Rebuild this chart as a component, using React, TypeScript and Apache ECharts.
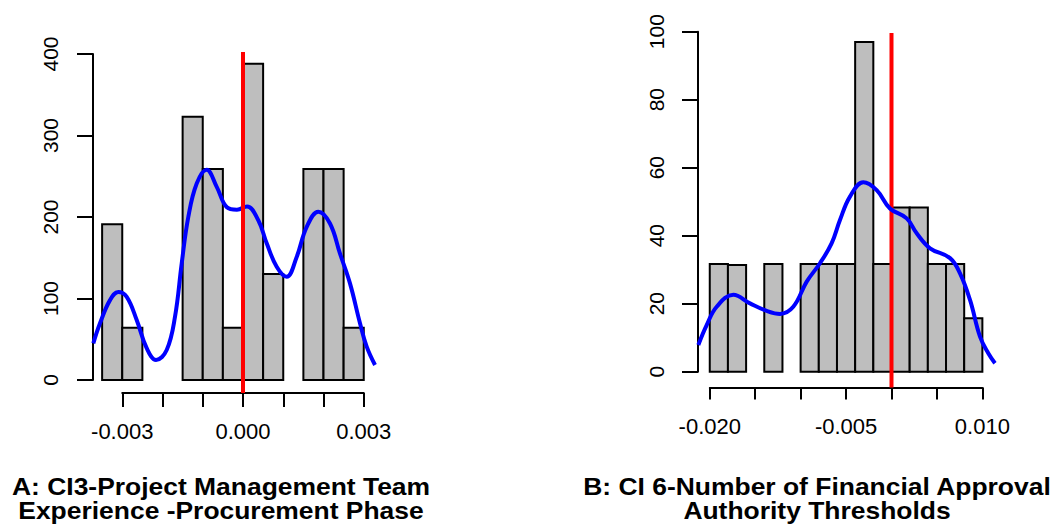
import React, { useEffect, useRef } from "react";
import * as echarts from "echarts";

// ---------- Data ----------
// Panel A histogram (density scale)
const leftBinStarts = [-0.0035, -0.003, -0.0025, -0.002, -0.0015, -0.001, -0.0005, 0, 0.0005, 0.001, 0.0015, 0.002, 0.0025];
const leftBinHeights = [191, 64, 0, 0, 323, 259, 64, 388, 130, 0, 259, 259, 64];
const leftBinWidth = 0.0005;
// Panel A density curve
const leftDensityX = [-0.003719, -0.003553, -0.003304, -0.003098, -0.002889, -0.002641, -0.002393, -0.002161, -0.001896, -0.001689, -0.001523, -0.001359, -0.00115, -0.000902, -0.000653, -0.0004, -0.00015, 0.0001, 0.00038, 0.000589, 0.000837, 0.001086, 0.001334, 0.001583, 0.001871, 0.002161, 0.00241, 0.002658, 0.002907, 0.003073, 0.00328];
const leftDensityY = [45, 69.6, 98, 108, 102, 73.6, 39, 24.5, 36.8, 77.7, 143, 200, 241, 258, 237, 212, 209, 213, 196, 167.7, 139, 126.7, 151, 188, 206.5, 192, 155, 118.6, 69.6, 40.9, 18.4];
const leftRefLine = 0;
const leftYTicks = { min: 0, max: 400, interval: 100 };
const leftXTicks = { min: -0.003, max: 0.003, interval: 0.001 };
const leftXLabelValues = [-0.003, 0, 0.003];

// Panel B histogram
const rightBinStarts = [-0.02, -0.018, -0.016, -0.014, -0.012, -0.01, -0.008, -0.006, -0.004, -0.002, 0, 0.002, 0.004, 0.006, 0.008];
const rightBinHeights = [31.7, 31.4, 0, 31.7, 0, 31.7, 31.7, 31.7, 97, 31.7, 48.3, 48.3, 31.7, 31.7, 15.7];
const rightBinWidth = 0.002;
// Panel B density curve
const rightDensityX = [-0.02126, -0.02034, -0.01924, -0.01741, -0.01557, -0.01373, -0.01227, -0.01081, -0.00933, -0.00787, -0.00658, -0.00567, -0.00457, -0.0031, -0.00163, -0.00017, 0.00167, 0.00277, 0.00424, 0.00644, 0.00754, 0.00864, 0.00974, 0.01065, 0.01139];
const rightDensityY = [7.85, 13.7, 19.1, 22.6, 20.1, 17.9, 17, 19.1, 26.5, 31.9, 37.8, 44.6, 51.5, 55.7, 53.4, 48, 45.1, 40.7, 36.3, 33.4, 28.9, 21.1, 10.3, 5.4, 2.5];
const rightRefLine = 0;
const rightYTicks = { min: 0, max: 100, interval: 20 };
const rightXTicks = { min: -0.02, max: 0.01, interval: 0.005 };
const rightXLabelValues = [-0.02, -0.005, 0.01];

const titleA = ["A: CI3-Project Management Team", "Experience -Procurement Phase"];
const titleB = ["B: CI 6-Number of Financial Approval", "Authority Thresholds"];

// ---------- Layout ----------
const FONT = "'Liberation Sans', Arial, Helvetica, sans-serif";
const leftPlot = { left: 93, top: 52, width: 282, height: 341, xMin: -0.0037267, xMax: 0.0032795, yMin: -15.95, yMax: 402.45 };
const leftYGrid = { left: 93, top: 54, width: 282, height: 326 };
const leftXGrid = { left: 122.25, top: 392, width: 241.5, height: 1 };
const rightPlot = { left: 698, top: 33, width: 297, height: 354.5, xMin: -0.021294, xMax: 0.01139, yMin: -4.65, yMax: 99.62 };
const rightYGrid = { left: 698, top: 31.7, width: 297, height: 340 };
const rightXGrid = { left: 709.8, top: 386.5, width: 272.6, height: 1 };

function histData(starts: number[], heights: number[], w: number) {
  const out: number[][] = [];
  starts.forEach((s, i) => {
    if (heights[i] > 0) out.push([s, s + w, heights[i]]);
  });
  return out;
}

function zip(xs: number[], ys: number[]) {
  return xs.map((x, i) => [x, ys[i]]);
}

const renderBar = (params: any, api: any) => {
  const p0 = api.coord([api.value(0), 0]);
  const p1 = api.coord([api.value(1), api.value(2)]);
  return {
    type: "rect",
    shape: { x: p0[0], y: p1[1], width: p1[0] - p0[0], height: p0[1] - p1[1] },
    style: { fill: "#bebebe", stroke: "#000000", lineWidth: 2 },
  };
};

function hiddenAxis(gridIndex: number, min: number, max: number) {
  return { type: "value", gridIndex, min, max, show: false, splitLine: { show: false } };
}

function yDisplayAxis(gridIndex: number, t: { min: number; max: number; interval: number }, margin: number, tickLen: number) {
  return {
    type: "value",
    gridIndex,
    min: t.min,
    max: t.max,
    interval: t.interval,
    position: "left",
    splitLine: { show: false },
    axisLine: { show: true, lineStyle: { color: "#000", width: 2 } },
    axisTick: { show: true, inside: false, length: tickLen, lineStyle: { color: "#000", width: 2 } },
    axisLabel: {
      show: true,
      rotate: 90,
      margin,
      interval: 0,
      showMinLabel: true,
      showMaxLabel: true,
      fontSize: 21,
      fontFamily: FONT,
      color: "#000",
      formatter: (v: number) => String(Math.round(v)),
    },
  };
}

function xDisplayAxis(gridIndex: number, t: { min: number; max: number; interval: number }, labels: number[], margin: number, tickLen: number) {
  return {
    type: "value",
    gridIndex,
    min: t.min,
    max: t.max,
    interval: t.interval,
    position: "bottom",
    splitLine: { show: false },
    axisLine: { show: true, lineStyle: { color: "#000", width: 2 } },
    axisTick: { show: true, inside: false, length: tickLen, lineStyle: { color: "#000", width: 2 } },
    axisLabel: {
      show: true,
      margin,
      interval: 0,
      showMinLabel: true,
      showMaxLabel: true,
      hideOverlap: false,
      fontSize: 22,
      fontFamily: FONT,
      color: "#000",
      formatter: (v: number) => (labels.some((l) => Math.abs(l - v) < 1e-9) ? v.toFixed(3) : ""),
    },
  };
}

function titleTexts(lines: string[], cx: number) {
  return lines.map((t, i) => ({
    type: "text",
    x: cx,
    y: 487 + i * 24,
    scaleX: 1.15,
    style: {
      text: t,
      fontSize: 23,
      fontWeight: "bold",
      fontFamily: FONT,
      fill: "#000",
      align: "center",
      verticalAlign: "middle",
    },
  }));
}

export default function App() {
  const ref = useRef<HTMLDivElement>(null);

  useEffect(() => {
    document.body.style.margin = "0";
    if (!ref.current) return;
    const chart = echarts.init(ref.current, undefined, { renderer: "svg" });

    const option: any = {
      animation: false,
      backgroundColor: "#ffffff",
      grid: [leftPlot, leftYGrid, leftXGrid, rightPlot, rightYGrid, rightXGrid].map((g: any) => ({
        left: g.left,
        top: g.top,
        width: g.width,
        height: g.height,
        show: false,
      })),
      xAxis: [
        hiddenAxis(0, leftPlot.xMin, leftPlot.xMax),
        hiddenAxis(1, 0, 1),
        xDisplayAxis(2, leftXTicks, leftXLabelValues, 27, 14),
        hiddenAxis(3, rightPlot.xMin, rightPlot.xMax),
        hiddenAxis(4, 0, 1),
        xDisplayAxis(5, rightXTicks, rightXLabelValues, 28, 12),
      ],
      yAxis: [
        hiddenAxis(0, leftPlot.yMin, leftPlot.yMax),
        yDisplayAxis(1, leftYTicks, 32, 16),
        hiddenAxis(2, 0, 1),
        hiddenAxis(3, rightPlot.yMin, rightPlot.yMax),
        yDisplayAxis(4, rightYTicks, 31, 16),
        hiddenAxis(5, 0, 1),
      ],
      series: [
        {
          type: "custom",
          xAxisIndex: 0,
          yAxisIndex: 0,
          renderItem: renderBar,
          data: histData(leftBinStarts, leftBinHeights, leftBinWidth),
          encode: { x: [0, 1], y: 2 },
          z: 1,
          silent: true,
        },
        {
          type: "line",
          xAxisIndex: 0,
          yAxisIndex: 0,
          data: zip(leftDensityX, leftDensityY),
          smooth: 0.4,
          symbol: "none",
          lineStyle: { color: "#0000ff", width: 4 },
          z: 2,
          silent: true,
        },
        {
          type: "line",
          xAxisIndex: 0,
          yAxisIndex: 0,
          data: [[leftRefLine, leftPlot.yMin], [leftRefLine, leftPlot.yMax]],
          symbol: "none",
          lineStyle: { color: "#ff0000", width: 4 },
          z: 3,
          silent: true,
        },
        {
          type: "custom",
          xAxisIndex: 3,
          yAxisIndex: 3,
          renderItem: renderBar,
          data: histData(rightBinStarts, rightBinHeights, rightBinWidth),
          encode: { x: [0, 1], y: 2 },
          z: 1,
          silent: true,
        },
        {
          type: "line",
          xAxisIndex: 3,
          yAxisIndex: 3,
          data: [[rightRefLine, rightPlot.yMin], [rightRefLine, rightPlot.yMax]],
          symbol: "none",
          lineStyle: { color: "#ff0000", width: 4 },
          z: 2,
          silent: true,
        },
        {
          type: "line",
          xAxisIndex: 3,
          yAxisIndex: 3,
          data: zip(rightDensityX, rightDensityY),
          smooth: 0.4,
          symbol: "none",
          lineStyle: { color: "#0000ff", width: 4 },
          z: 3,
          silent: true,
        },
      ],
      graphic: [...titleTexts(titleA, 221), ...titleTexts(titleB, 817)],
    };

    chart.setOption(option);
    return () => {
      chart.dispose();
    };
  }, []);

  return <div ref={ref} style={{ width: 1062, height: 529 }} />;
}
